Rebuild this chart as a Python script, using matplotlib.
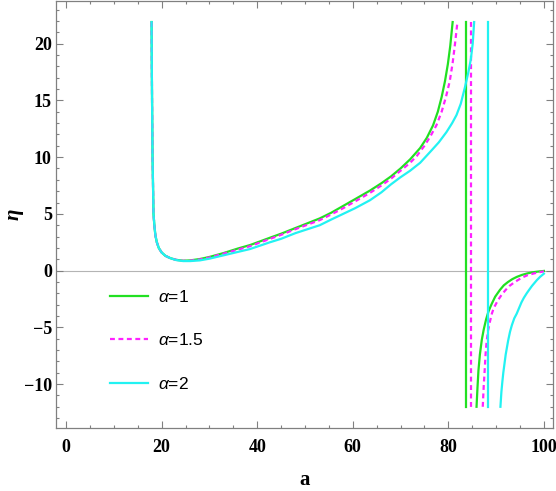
import numpy as np
import matplotlib
matplotlib.use("Agg")
import matplotlib.pyplot as plt
from matplotlib.lines import Line2D
from matplotlib.ticker import MultipleLocator

plt.rcParams['mathtext.fontset'] = 'custom'
plt.rcParams['mathtext.rm'] = 'Liberation Sans'
plt.rcParams['mathtext.it'] = 'Liberation Sans:italic'

# values (clipped to the plot range -12..21.9)
labels = ["$\\alpha$=1", "$\\alpha$=1.5", "$\\alpha$=2"]

# left branches (pole near a=18 up to the second pole)
a_left_1 = [17.9, 17.95, 18.0, 18.1, 18.2, 18.3, 18.5, 18.7, 19.0, 19.4, 20.0, 20.8, 21.8, 23.0,
            24.5, 26.0, 28.0, 30.0, 33.0, 36.0, 38.5, 42.7, 45.0, 48.0, 53.1, 55.5, 58.0, 60.5,
            63.6, 66.0, 68.0, 70.0, 72.0, 74.1, 75.5, 76.8, 77.8, 78.6, 79.3, 79.9, 80.4, 80.9]
eta_left_1 = [21.9, 18.0, 15.0, 10.0, 7.6, 5.0, 3.9, 3.1, 2.5, 2.0, 1.6, 1.3, 1.1, 0.95,
              0.87, 0.9, 1.02, 1.2, 1.55, 1.95, 2.25, 2.9, 3.25, 3.75, 4.6, 5.1, 5.7, 6.3,
              7.05, 7.7, 8.3, 9.0, 9.8, 10.8, 11.7, 12.8, 14.0, 15.3, 16.7, 18.2, 19.8, 21.9]

a_left_15 = [17.9, 17.95, 18.0, 18.1, 18.2, 18.3, 18.5, 18.7, 19.0, 19.4, 20.0, 20.8, 21.8, 23.0,
             24.5, 26.0, 28.0, 30.0, 33.0, 36.0, 38.5, 42.7, 45.0, 48.0, 53.1, 55.5, 58.0, 60.5,
             63.6, 66.0, 68.0, 70.0, 72.0, 73.4, 75.0, 76.2, 77.5, 78.6, 79.5, 80.3, 80.9, 81.4,
             81.9]
eta_left_15 = [21.9, 18.0, 15.0, 10.0, 7.6, 5.0, 3.9, 3.1, 2.5, 2.0, 1.6, 1.3, 1.1, 0.95,
               0.86, 0.88, 0.98, 1.15, 1.5, 1.85, 2.15, 2.8, 3.15, 3.65, 4.45, 4.95, 5.5, 6.1,
               6.85, 7.5, 8.1, 8.8, 9.5, 10.1, 11.0, 11.8, 12.8, 14.0, 15.3, 16.7, 18.3, 20.0,
               21.9]

a_left_2 = [17.9, 17.95, 18.0, 18.1, 18.2, 18.3, 18.5, 18.7, 19.0, 19.4, 20.0, 20.8, 21.8, 23.0,
            24.5, 26.0, 28.0, 30.0, 33.0, 36.0, 38.5, 42.7, 45.0, 48.0, 53.1, 55.5, 58.0, 60.5,
            63.6, 66.0, 68.0, 69.9, 72.0, 74.1, 76.5, 78.0, 79.6, 80.8, 81.7, 82.6, 83.5, 84.2,
            84.7, 85.1, 85.4]
eta_left_2 = [21.9, 18.0, 15.0, 10.0, 7.6, 5.0, 3.9, 3.1, 2.5, 2.0, 1.6, 1.3, 1.1, 0.93,
              0.84, 0.84, 0.9, 1.05, 1.35, 1.65, 1.9, 2.5, 2.8, 3.3, 4.0, 4.5, 5.0, 5.5,
              6.2, 6.9, 7.6, 8.2, 8.8, 9.5, 10.6, 11.3, 12.2, 13.0, 13.7, 14.7, 16.2, 17.5,
              18.6, 20.0, 21.9]

# vertical jumps across the poles
a_jump = [83.7, 84.7, 88.4]
eta_jump = [21.9, -12.0]

# right branches (from -inf back towards 0 at a=100)
a_right_1 = [85.9, 86.1, 86.3, 86.6, 87.0, 87.4, 87.9, 88.4, 89.0, 89.8, 90.8, 91.6, 92.5, 93.4,
             94.3, 95.4, 96.5, 97.5, 98.5, 100.0]
eta_right_1 = [-12.0, -10.3, -8.8, -7.4, -6.1, -5.2, -4.3, -3.6, -3.0, -2.3, -1.7, -1.3, -1.0,
               -0.75, -0.56, -0.38, -0.25, -0.16, -0.1, -0.03]

a_right_15 = [87.2, 87.4, 87.6, 87.8, 88.0, 88.3, 88.7, 89.1, 89.5, 90.4, 91.2, 92.0, 92.8, 93.6,
              94.5, 95.5, 96.6, 97.8, 98.9, 100.0]
eta_right_15 = [-12.0, -10.2, -8.8, -7.3, -6.3, -5.3, -4.5, -3.8, -3.3, -2.6, -2.1, -1.7, -1.35,
                -1.1, -0.85, -0.6, -0.4, -0.26, -0.15, -0.07]

a_right_2 = [90.9, 91.1, 91.3, 91.5, 92.0, 92.5, 92.9, 93.3, 93.8, 94.3, 94.8, 95.3, 95.8, 96.4,
             96.9, 97.5, 98.0, 98.5, 99.2, 100.0]
eta_right_2 = [-12.0, -10.7, -9.8, -9.0, -7.4, -6.2, -5.4, -4.8, -4.2, -3.8, -3.3, -2.8, -2.4,
               -2.0, -1.7, -1.35, -1.1, -0.85, -0.55, -0.27]

colors = ['#22e022', '#ff22ff', '#22f2f2']
styles = ['-', (0, (2.2, 1.6)), '-']

fig = plt.figure(figsize=(5.56, 4.91), dpi=100)
ax = fig.add_axes([56 / 556, 63 / 491, 497 / 556, 427.5 / 491])

ax.axhline(0, color='#b4b4b4', lw=0.8, zorder=1)

series = [
    (a_left_1, eta_left_1, a_right_1, eta_right_1),
    (a_left_15, eta_left_15, a_right_15, eta_right_15),
    (a_left_2, eta_left_2, a_right_2, eta_right_2),
]
for i, (al, el, ar, er) in enumerate(series):
    kw = dict(color=colors[i], ls=styles[i], lw=1.6, zorder=3 + i, solid_joinstyle='round')
    ax.plot(al, el, **kw)
    ax.plot([a_jump[i], a_jump[i]], eta_jump, **kw)
    ax.plot(ar, er, **kw)

ax.set_xlim(-2.1, 101.9)
ax.set_ylim(-13.87, 23.8)

ax.xaxis.set_major_locator(MultipleLocator(20))
ax.xaxis.set_minor_locator(MultipleLocator(5))
ax.yaxis.set_major_locator(MultipleLocator(5))
ax.yaxis.set_minor_locator(MultipleLocator(1))

frame = '#808080'
for s in ax.spines.values():
    s.set_color(frame)
    s.set_linewidth(0.9)
ax.tick_params(which='both', direction='in', top=True, right=True, color=frame, width=0.8)
ax.tick_params(which='major', length=5)
ax.tick_params(which='minor', length=2.5)
ax.tick_params(axis='x', pad=8)
ax.tick_params(axis='y', pad=3)
for lab in ax.get_xticklabels() + ax.get_yticklabels():
    lab.set_family('Liberation Serif')
    lab.set_weight('bold')
    lab.set_fontsize(13)

ax.set_xlabel('a', family='Liberation Serif', weight='bold', fontsize=15, labelpad=10)
ax.set_ylabel('η', family='Liberation Serif', weight='bold', style='italic', fontsize=15)
ax.yaxis.set_label_coords(-0.066, 0.5)

handles = [Line2D([], [], color=colors[i], ls=styles[i], lw=1.6) for i in range(3)]
leg = ax.legend(handles, labels, loc='upper left', bbox_to_anchor=(0.108, 0.325),
                frameon=False, borderpad=0, borderaxespad=0, handlelength=2.2,
                handletextpad=0.6, labelspacing=1.58,
                prop={'family': 'Liberation Sans', 'size': 12.5})

fig.savefig('out.png', dpi=100)
